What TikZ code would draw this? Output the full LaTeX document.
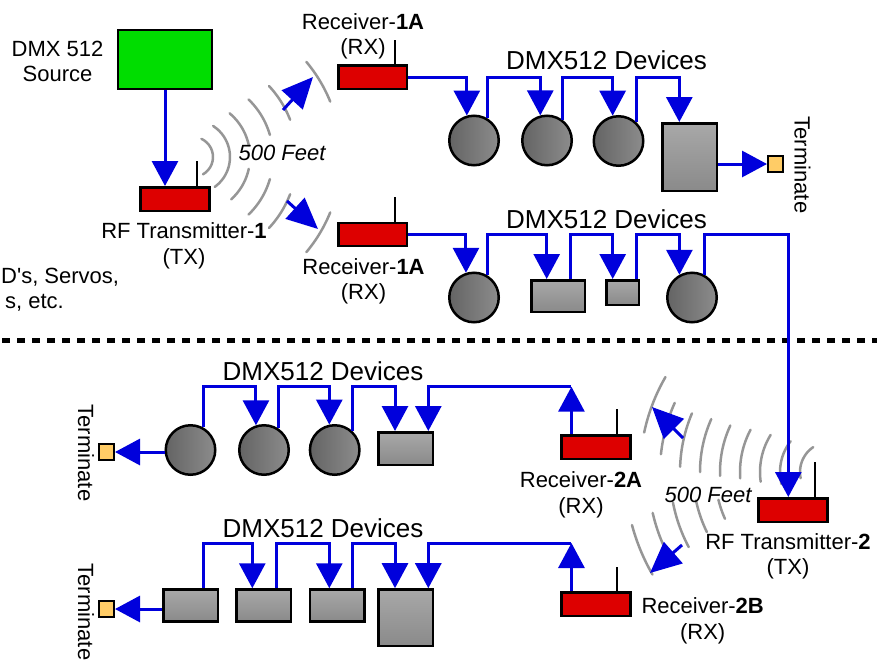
\documentclass[tikz,border=0pt]{standalone}
\usepackage{fontspec}
\setmainfont{Liberation Sans}
\usetikzlibrary{arrows.meta,calc}
\definecolor{dmxblue}{RGB}{0,0,220}
\definecolor{dmxred}{RGB}{221,0,0}
\definecolor{dmxgreen}{RGB}{0,221,0}
\definecolor{termfill}{RGB}{255,204,102}
\definecolor{wavegray}{RGB}{150,150,150}
\definecolor{circA}{RGB}{100,100,100}
\definecolor{circB}{RGB}{140,140,140}
\definecolor{boxA}{RGB}{168,168,168}
\definecolor{boxB}{RGB}{138,138,138}
\pgfdeclarelayer{bg}
\pgfsetlayers{bg,main}
\newcommand\wavearc[5]{\draw[wave] plot[smooth,domain=#3:#4,samples=14] ({#1+#5*cos(\x)},{#2+#5*sin(\x)});}
\begin{document}
\begin{tikzpicture}[x=1pt,y=-1pt,
  lbl/.style={inner sep=0pt, font=\fontsize{22}{25.5}\selectfont, align=center, anchor=north},
  devlbl/.style={inner sep=0pt, font=\fontsize{26}{30}\selectfont, anchor=north},
  italbl/.style={inner sep=0pt, font=\fontsize{22}{25.5}\selectfont\itshape, anchor=north},
  srcbox/.style={draw=black, line width=2.5pt, fill=dmxgreen, inner sep=0pt},
  radiobox/.style={draw=black, line width=2.5pt, fill=dmxred, inner sep=0pt, minimum width=69pt, minimum height=23.5pt},
  devcirc/.style={circle, draw=black, line width=2.5pt, left color=circA, right color=circB, inner sep=0pt, minimum size=49.5pt},
  devbox/.style={draw=black, line width=2.5pt, top color=boxA, bottom color=boxB, inner sep=0pt},
  termbox/.style={draw=black, line width=2pt, fill=termfill, inner sep=0pt, minimum width=15pt, minimum height=16pt},
  ant/.style={draw=black, line width=2pt},
  wave/.style={draw=wavegray, line width=2.5pt, line cap=round},
  wire/.style={draw=dmxblue, line width=3pt},
  flow/.style={draw=dmxblue, line width=3pt, -{Triangle[width=26pt,length=25pt]}},
  rfflow/.style={draw=dmxblue, line width=3pt, -{Triangle[width=28pt,length=31pt]}},
  sep/.style={draw=black, line width=5pt, dash pattern=on 7.7pt off 7.3pt, dash phase=12.7pt}
]
\useasboundingbox (0,0) rectangle (877,661);

% ---------- radio waves ----------
\begin{pgfonlayer}{bg}
\wavearc{193}{157}{-65}{60}{20}
\wavearc{193}{157}{-57}{54}{37}
\wavearc{193}{157}{-50}{-12}{57}
\wavearc{193}{157}{12}{48}{57}
\wavearc{193}{157}{-46}{-16}{80}
\wavearc{193}{157}{16}{46}{80}
\wavearc{193}{157}{-43}{-21}{104}
\wavearc{193}{157}{21}{43}{104}
\wavearc{193}{157}{-40}{-22}{148}
\wavearc{193}{157}{22}{40}{148}
% TX2 upper
\wavearc{830}{472}{168}{236}{30}
\wavearc{830}{472}{166}{218}{50}
\wavearc{830}{472}{172}{212}{70}
\wavearc{830}{472}{176}{208}{90}
\wavearc{830}{472}{178}{205}{110}
\wavearc{830}{472}{180}{204}{130}
\wavearc{830}{472}{182}{203}{150}
\wavearc{830}{472}{186}{204}{170}
\wavearc{830}{472}{192}{210}{190}
% TX2 lower
\wavearc{830}{472}{156}{166}{115}
\wavearc{830}{472}{154}{168}{137}
\wavearc{830}{472}{152}{169}{160}
\wavearc{830}{472}{152}{167}{182}
\wavearc{830}{472}{150}{165}{205}
\end{pgfonlayer}

% ---------- separator ----------
\draw[sep] (0,340) -- (877,340);

% ---------- nodes ----------
\node[srcbox, minimum width=94pt, minimum height=59pt] (src) at (165,59.5) {};
\node[radiobox] (tx1) at (175,199) {};
\node[radiobox, minimum width=68.5pt] (rx1) at (372.5,77) {};
\node[radiobox, minimum width=68.5pt, minimum height=23pt] (rx1b) at (372.5,234.5) {};
\node[radiobox] (rx2a) at (596,447) {};
\node[radiobox] (tx2) at (793,510) {};
\node[radiobox] (rx2b) at (596,604) {};

\draw[ant] ($(tx1.north east)+(-13.5,0)$) -- ++(0,-25);
\draw[ant] ($(rx1.north east)+(-13.5,0)$) -- ++(0,-24);
\draw[ant] ($(rx1b.north east)+(-13.5,0)$) -- ++(0,-25);
\draw[ant] ($(rx2a.north east)+(-14.8,0)$) -- ++(0,-25);
\draw[ant] ($(tx2.north east)+(-14.2,0)$) -- ++(0,-35);
\draw[ant] ($(rx2b.north east)+(-14.8,0)$) -- ++(0,-24.5);

\node[devcirc] (c1) at (474,140.5) {};
\node[devcirc] (c2) at (547,140.5) {};
\node[devcirc] (c3) at (618.5,141) {};
\node[devbox, minimum width=54.5pt, minimum height=67.5pt] (b1) at (689.5,157) {};
\node[termbox] (term1) at (775.5,164) {};

\node[devcirc] (c4) at (474,297.5) {};
\node[devbox, minimum width=53.5pt, minimum height=31.5pt] (bA) at (558,296) {};
\node[devbox, minimum width=32.5pt, minimum height=24.5pt] (bS) at (622.5,292.5) {};
\node[devcirc] (c5) at (692,297.5) {};

\node[devcirc] (c6) at (190.5,450) {};
\node[devcirc] (c7) at (264,450) {};
\node[devcirc] (c8) at (334.7,450) {};
\node[devbox, minimum width=54.5pt, minimum height=32.5pt] (b2) at (405.5,448.5) {};
\node[termbox] (term2) at (106.5,452) {};

\node[devbox, minimum width=54.5pt, minimum height=32pt] (d1) at (190.5,605.5) {};
\node[devbox, minimum width=54.5pt, minimum height=32pt] (d2) at (263.7,605.5) {};
\node[devbox, minimum width=54.5pt, minimum height=32pt] (d3) at (337,605.5) {};
\node[devbox, minimum width=54.5pt, minimum height=56.5pt] (d4) at (405.5,617.7) {};
\node[termbox] (term3) at (106.5,609) {};

% ---------- labels ----------
\node[lbl] (srclbl) at (57.5,40.7) {DMX 512\\Source};
\node[lbl] (tx1lbl) at (184,222.7) {RF Transmitter-\textbf{1}\\(TX)};
\node[lbl] (rx1lbl) at (363,13.3) {Receiver-\textbf{1A}\\(RX)};
\node[lbl] (rx1blbl) at (363.5,258.3) {Receiver-\textbf{1A}\\(RX)};
\node[lbl, anchor=base west] (misc1) at (1,283.3) {D\textquotesingle s, Servos,};
\node[lbl, anchor=base east] (misc2) at (64,308.3) {s, etc.};
\node[italbl] (feet1) at (282,145) {500 Feet};
\node[devlbl] (dev1) at (606.5,50) {DMX512 Devices};
\node[devlbl] (dev2) at (606.5,209.3) {DMX512 Devices};
\node[devlbl] (dev3) at (323,361.7) {DMX512 Devices};
\node[devlbl] (dev4) at (323,518.3) {DMX512 Devices};
\node[lbl, rotate=-90, anchor=center] (t1lbl) at (802.5,165) {Terminate};
\node[lbl, rotate=-90, anchor=center] (t2lbl) at (86,453) {Terminate};
\node[lbl, rotate=-90, anchor=center] (t3lbl) at (86,612) {Terminate};
\node[lbl] (rx2albl) at (581,471.7) {Receiver-\textbf{2A}\\(RX)};
\node[italbl] (feet2) at (708,486.7) {500 Feet};
\node[lbl] (tx2lbl) at (788,533.3) {RF Transmitter-\textbf{2}\\(TX)};
\node[lbl] (rx2blbl) at (702.7,597.7) {Receiver-\textbf{2B}\\(RX)};

% ---------- bus levels ----------
\coordinate (bus1) at (0,77);
\coordinate (bus2) at (0,234.5);
\coordinate (bus3) at (0,386.7);
\coordinate (bus4) at (0,543);

% ---------- top: source to transmitter ----------
\draw[flow] (src.south) -- (src.south |- tx1.north);

% ---------- wireless arrows ----------
\coordinate (w1a) at (283,110); \coordinate (w1b) at (313,77);
\coordinate (w2a) at (287,201); \coordinate (w2b) at (318,229);
\coordinate (w3a) at (683,438); \coordinate (w3b) at (652,407);
\coordinate (w4a) at (682,545); \coordinate (w4b) at (650,573);
\draw[rfflow] (w1a) -- (w1b);
\draw[rfflow] (w2a) -- (w2b);
\draw[rfflow] (w3a) -- (w3b);
\draw[rfflow] (w4a) -- (w4b);

% ---------- row 1 ----------
\draw[flow] (rx1.east) -| (c1.106);
\draw[flow] (c1.59) -- (c1.59 |- bus1) -| (c2.105);
\draw[flow] (c2.53) -- (c2.53 |- bus1) -| (c3.103);
\draw[flow] (c3.47) -- (c3.47 |- bus1) -| ($(b1.north)+(-10.2,0)$);
\draw[flow] (term1.west -| b1.east) -- (term1.west);

% ---------- row 2 ----------
\coordinate (bAout) at ($(bA.north)+(12.7,0)$);
\coordinate (bSout) at ($(bS.north)+(13.5,0)$);
\draw[flow] (rx1b.east) -| (c4.108);
\draw[flow] (c4.59) -- (c4.59 |- bus2) -| ($(bA.north)+(-11.3,0)$);
\draw[flow] (bAout) -- (bAout |- bus2) -| ($(bS.north)+(-9.8,0)$);
\draw[flow] (bSout) -- (bSout |- bus2) -| (c5.119);
\draw[flow] (c5.62) -- (c5.62 |- bus2) -| ($(tx2.north)+(-4.7,0)$);

% ---------- row 3 ----------
\coordinate (rx2aout) at ($(rx2a.north west)+(11.2,0)$);
\draw[flow] (rx2aout) -- (rx2aout |- bus3);
\draw[flow] (rx2aout |- bus3) -| ($(b2.north)+(22.8,0)$);
\draw[flow] (c8.46) -- (c8.46 |- bus3) -| ($(b2.north)+(-10.5,0)$);
\draw[flow] (c7.57) -- (c7.57 |- bus3) -| (c8.102);
\draw[flow] (c6.60) -- (c6.60 |- bus3) -| (c7.108);
\draw[flow] (c6.west |- term2.east) -- (term2.east);

% ---------- row 4 ----------
\coordinate (rx2bout) at ($(rx2b.north west)+(11.2,0)$);
\coordinate (d1out) at ($(d1.north)+(12.8,0)$);
\coordinate (d2out) at ($(d2.north)+(13,0)$);
\coordinate (d3out) at ($(d3.north)+(15.7,0)$);
\draw[flow] (rx2bout) -- (rx2bout |- bus4);
\draw[flow] (rx2bout |- bus4) -| ($(d4.north)+(22.8,0)$);
\draw[flow] (d3out) -- (d3out |- bus4) -| ($(d4.north)+(-10.5,0)$);
\draw[flow] (d2out) -- (d2out |- bus4) -| ($(d3.north)+(-7.7,0)$);
\draw[flow] (d1out) -- (d1out |- bus4) -| ($(d2.north)+(-11.4,0)$);
\draw[flow] (d1.west |- term3.east) -- (term3.east);
\end{tikzpicture}
\end{document}
